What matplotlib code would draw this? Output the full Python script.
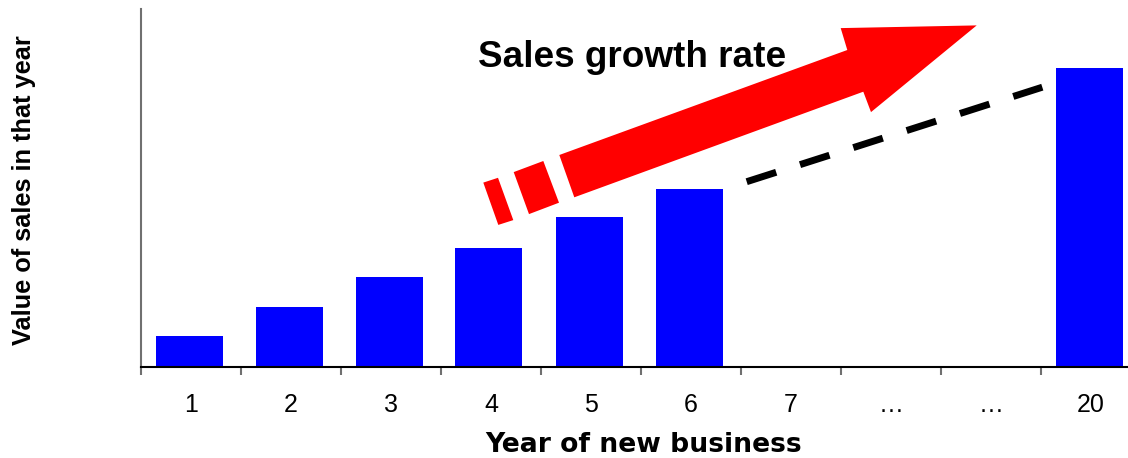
import matplotlib
matplotlib.use("Agg")
import matplotlib.pyplot as plt
from matplotlib.patches import Polygon
import numpy as np

plt.rcParams['font.family'] = ['Liberation Sans', 'DejaVu Sans']

# ---- data ----
categories = ["1", "2", "3", "4", "5", "6", "7", "\u2026", "\u2026", "20"]
sales = [1.02, 1.98, 2.98, 3.95, 4.99, 5.92, 0, 0, 0, 9.96]

# annotation geometry (data coords: x = category index, y = value)
arrow_body = [(3.683, 7.05), (6.563, 10.55), (6.497, 11.28), (7.857, 11.37),
              (6.80, 8.48), (6.723, 9.16), (3.833, 5.64)]
arrow_dash2 = [(3.227, 6.48), (3.523, 6.85), (3.68, 5.46), (3.38, 5.08)]
arrow_dash1 = [(2.923, 6.13), (3.07, 6.29), (3.223, 4.88), (3.073, 4.72)]
trend_x = [5.557, 8.513]
trend_y = [6.16, 9.31]

W, H = 1128, 458
fig = plt.figure(figsize=(W / 100, H / 100), dpi=100)
ax = fig.add_axes([141 / W, (H - 366.5) / H, 1000 / W, (366.5 - 9) / H])

x = np.arange(len(categories))
ax.bar(x - 0.02, sales, width=0.67, color="#0000FF", zorder=2)

ax.set_xlim(-0.5, len(categories) - 0.5)
ax.set_ylim(0, (366.5 - 9) / 30)

for pts in (arrow_body, arrow_dash2, arrow_dash1):
    ax.add_patch(Polygon(pts, closed=True, facecolor="#FF0000", edgecolor="none", zorder=3))

line, = ax.plot(trend_x, trend_y, color="black", linewidth=5.0, solid_capstyle="butt",
                dash_capstyle="butt", zorder=3)
line.set_dashes((4.46, 3.6))

for s in ("top", "right"):
    ax.spines[s].set_visible(False)
ax.spines["left"].set_color("#707070")
ax.spines["left"].set_linewidth(1.5)
ax.spines["bottom"].set_color("black")
ax.spines["bottom"].set_linewidth(1.5)

ax.set_yticks([])
ax.set_xticks(x)
ax.set_xticklabels(categories, fontsize=18)
ax.tick_params(axis="x", which="major", length=0, pad=19)
ax.set_xticks(np.arange(len(categories)) - 0.5, minor=True)
ax.tick_params(axis="x", which="minor", length=6, width=1.5, color="#707070", direction="out")

fig.text(478 / W, 1 - 66.7 / H, "Sales growth rate", fontsize=26.6, fontweight="bold",
         ha="left", va="baseline")
fig.text(644 / W, 1 - 452.5 / H, "Year of new business", fontsize=19.2, fontweight="bold",
         ha="center", va="baseline", family=["DejaVu Sans"])
fig.text(24 / W, 1 - 190 / H, "Value of sales in that year", fontsize=18.3, fontweight="bold",
         ha="center", va="center", rotation=90)

fig.savefig("out.png", dpi=100)
